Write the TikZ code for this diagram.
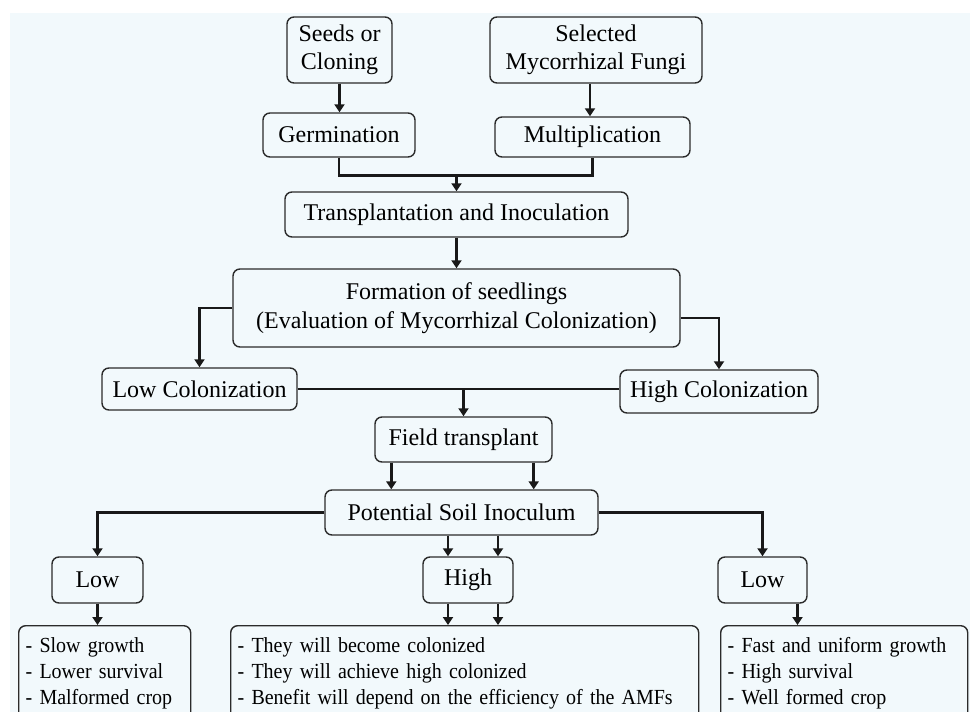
\documentclass[tikz,border=0pt]{standalone}
\usepackage{fontspec}
\setmainfont{Liberation Serif}
\newfontfamily\narrowserif[FakeStretch=0.93]{Liberation Serif}
\usetikzlibrary{arrows.meta, calc}

\definecolor{paper}{HTML}{F2F9FC}
\definecolor{edge}{HTML}{2B2B2B}

\begin{document}
\begin{tikzpicture}[x=1pt, y=-1pt,
  box/.style={draw=edge, line width=1.4pt, rounded corners=7pt, fill=paper,
    inner sep=0pt, align=center, font=\fontsize{24}{28.5}\selectfont},
  notes/.style={box, align=left, anchor=north west, inner xsep=7pt,
    minimum height=95pt, font=\narrowserif\fontsize{21.5}{26}\selectfont},
  conn/.style={line width=2.6pt, black!90, >={Triangle[width=10pt,length=8pt]}}]
\clip (0,0) rectangle (970,712);
\fill[white] (0,0) rectangle (970,712);
\fill[paper] (10,13) rectangle (970,712);

\node[box, minimum width=105pt, minimum height=66pt] (seeds) at (339.5,50) {Seeds or\\Cloning};
\node[box, minimum width=212pt, minimum height=66pt] (fungi) at (596,50) {Selected\\Mycorrhizal Fungi};
\node[box, minimum width=152pt, minimum height=44pt] (germ) at (339,135) {Germination};
\node[box, minimum width=195pt, minimum height=40pt] (mult) at (592.5,137) {Multiplication};
\node[box, minimum width=343pt, minimum height=45pt] (trans) at (456.5,214.5) {Transplantation and Inoculation};
\node[box, minimum width=447pt, minimum height=78pt] (form) at (456.5,308) {Formation of seedlings\\(Evaluation of Mycorrhizal Colonization)};
\node[box, minimum width=195pt, minimum height=42pt] (lowcol) at (199.5,389) {Low Colonization};
\node[box, minimum width=198pt, minimum height=43pt] (highcol) at (719,391.5) {High Colonization};
\node[box, minimum width=177pt, minimum height=45pt] (field) at (463.5,439.5) {Field transplant};
\node[box, minimum width=273pt, minimum height=45pt] (pot) at (461.5,512.5) {Potential Soil Inoculum};
\node[box, minimum width=91pt, minimum height=46pt] (lowL) at (97.5,580) {Low};
\node[box, minimum width=90pt, minimum height=46pt] (high) at (468,580) {High};
\node[box, minimum width=89pt, minimum height=46pt] (lowR) at (762.5,580) {Low};
\node[notes, text width=158pt] (resL) at (18,625) {- Slow growth\\- Lower survival\\- Malformed crop};
\node[notes, text width=454pt] (resM) at (230,625) {- They will become colonized\\- They will achieve high colonized\\- Benefit will depend on the efficiency of the AMFs};
\node[notes, text width=233pt] (resR) at (720,625) {- Fast and uniform growth\\- High survival\\- Well formed crop};

\draw[conn,->] (seeds.south) -- (seeds.south |- germ.north);
\coordinate (fa) at ([xshift=-6pt]fungi.south);
\draw[conn,->] (fa) -- (fa |- mult.north);
\coordinate (g1) at ([yshift=-18pt]germ.south);
\draw[conn] (germ.south) -- (g1) -| (mult.south);
\draw[conn,->] (g1 -| trans.north) -- (trans.north);
\draw[conn,->] (trans.south) -- (form.north);
\draw[conn,->] (form.west) -| (lowcol.north);
\draw[conn,->] ([yshift=-10pt]form.east) -| (highcol.north);
\draw[conn] (lowcol.east) -- (lowcol.east -| highcol.west);
\draw[conn,->] (field.north |- lowcol.east) -- (field.north);
\coordinate (f1) at ([xshift=17pt]field.south west);
\coordinate (f2) at ([xshift=-19pt]field.south east);
\foreach \c in {f1,f2} \draw[conn,->] (\c) -- (\c |- pot.north);
\draw[conn,->] (pot.west) -| (lowL.north);
\draw[conn,->] (pot.east) -| (lowR.north);
\coordinate (h1) at ([xshift=-20pt]high.north);
\coordinate (h2) at ([xshift=30pt]high.north);
\foreach \c in {h1,h2} {
  \draw[conn,->] (\c |- pot.south) -- (\c);
  \draw[conn,->] (\c |- high.south) -- (\c |- resM.north);
}
\draw[conn,->] (lowL.south) -- (lowL.south |- resL.north);
\coordinate (r1) at ([xshift=35pt]lowR.south);
\draw[conn,->] (r1) -- (r1 |- resR.north);
\end{tikzpicture}
\end{document}
